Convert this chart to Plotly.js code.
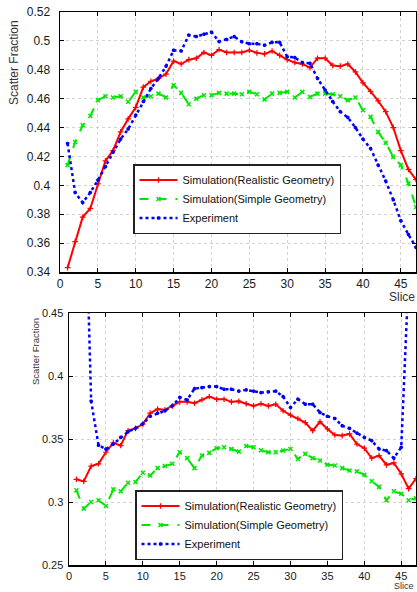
<!DOCTYPE html>
<html><head><meta charset="utf-8">
<script src="https://cdn.plot.ly/plotly-3.0.1.min.js"></script>
<style>html,body{margin:0;padding:0;background:#fff;} #chart{width:417px;height:592px;}</style>
</head><body><div id="chart"></div>
<script>
const slices = [1,2,3,4,5,6,7,8,9,10,11,12,13,14,15,16,17,18,19,20,21,22,23,24,25,26,27,28,29,30,31,32,33,34,35,36,37,38,39,40,41,42,43,44,45,46,47];
const expSlices = [2,3,4,5,6,7,8,9,10,11,12,13,14,15,16,17,18,19,20,21,22,23,24,25,26,27,28,29,30,31,32,33,34,35,36,37,38,39,40,41,42,43,44,45,46];

const topRealistic = [0.343,0.361,0.378,0.384,0.401,0.417,0.424,0.437,0.446,0.454,
  0.468,0.472,0.474,0.477,0.486,0.484,0.487,0.488,0.492,0.490,
  0.494,0.492,0.492,0.492,0.4935,0.4917,0.491,0.493,0.490,0.487,
  0.485,0.484,0.4815,0.488,0.488,0.483,0.4825,0.484,0.4785,0.471,
  0.465,0.4585,0.451,0.440,0.424,0.411,0.404];
const topSimple = [0.414,0.430,0.4416,0.448,0.459,0.4617,0.4608,0.4617,0.4578,0.4647,
  0.4608,0.4617,0.4635,0.4608,0.4693,0.464,0.4562,0.460,0.4624,0.4624,
  0.464,0.4635,0.4635,0.463,0.4647,0.463,0.4594,0.4635,0.464,0.4647,
  0.4608,0.4647,0.4612,0.4635,0.4635,0.463,0.4617,0.459,0.4608,0.452,
  0.4474,0.437,0.4294,0.4197,0.414,0.4013,0.385];
const topExperiment = [0.429,0.395,0.388,0.395,0.4036,0.413,0.423,0.432,0.439,0.4486,
  0.458,0.467,0.474,0.4825,0.4935,0.493,0.504,0.503,0.5046,0.506,
  0.4995,0.501,0.503,0.4994,0.498,0.498,0.497,0.499,0.499,0.489,
  0.4885,0.485,0.4845,0.474,0.466,0.458,0.451,0.447,0.440,0.432,
  0.4255,0.414,0.403,0.390,0.3755,0.366,0.357];

const botRealistic = [0.318,0.3164,0.3285,0.3303,0.3395,0.3469,0.3448,0.3566,0.3584,0.3619,
  0.3705,0.3737,0.3732,0.3763,0.3795,0.3795,0.3784,0.3811,0.3837,0.3816,
  0.3816,0.3795,0.380,0.378,0.3763,0.378,0.3763,0.3776,0.3724,0.369,
  0.3663,0.363,0.3566,0.3637,0.358,0.3532,0.3527,0.354,0.346,0.3427,
  0.3348,0.3369,0.3295,0.331,0.3224,0.3106,0.3185];
const botSimple = [0.3093,0.2948,0.300,0.3014,0.2969,0.310,0.3085,0.3153,0.3158,0.3232,
  0.3211,0.3269,0.3285,0.3303,0.3395,0.3348,0.3269,0.3369,0.339,0.3427,
  0.3434,0.3421,0.340,0.3445,0.3434,0.341,0.3395,0.3395,0.3408,0.3421,
  0.3342,0.3382,0.3348,0.333,0.3295,0.329,0.3269,0.325,0.3243,0.3216,
  0.3164,0.312,0.3014,0.3085,0.3066,0.3014,0.303];
const botExperiment = [0.59,0.38,0.345,0.342,0.346,0.3513,0.3558,0.3584,0.362,
  0.368,0.3705,0.3724,0.3763,0.383,0.381,0.390,0.3908,0.3916,0.3916,
  0.3895,0.3895,0.388,0.389,0.388,0.3868,0.3874,0.388,0.3837,0.375,
  0.3816,0.3776,0.3776,0.371,0.368,0.3663,0.3605,0.3584,0.3547,0.3513,
  0.3487,0.3421,0.3408,0.3348,0.3434,0.48];

const xTicks = [0,5,10,15,20,25,30,35,40,45];
const topYTicks = [0.34,0.36,0.38,0.40,0.42,0.44,0.46,0.48,0.50,0.52];
const topYText = ['0.34','0.36','0.38','0.4','0.42','0.44','0.46','0.48','0.5','0.52'];
const botYTicks = [0.25,0.30,0.35,0.40,0.45];
const botYText = ['0.25','0.3','0.35','0.4','0.45'];
const names = ['Simulation(Realistic Geometry)','Simulation(Simple Geometry)','Experiment'];

const FONT = 'Arial, "Liberation Sans", sans-serif';
const styles = [
  {line:{color:'#ff0000',width:2,dash:'solid'}, marker:{symbol:'cross-thin',size:4,color:'#ff0000',line:{color:'#ff0000',width:1.2}}},
  {line:{color:'#00e600',width:2,dash:'dash'}, marker:{symbol:'x-thin',size:4,color:'#00e600',line:{color:'#00e600',width:1.5}}},
  {line:{color:'#0000ff',width:2.5,dash:'dot'}, marker:{symbol:'asterisk',size:3,color:'#0000ff',line:{color:'#0000ff',width:1.2}}}
];

function tr(x, y, i, xa, ya, leg) {
  return Object.assign({type:'scatter', mode:'lines+markers', x:x, y:y, name:names[i],
    xaxis:xa, yaxis:ya, legend:leg, cliponaxis:true}, JSON.parse(JSON.stringify(styles[i])));
}

const data = [
  tr(slices, topRealistic, 0, 'x', 'y', 'legend'),
  tr(slices, topSimple, 1, 'x', 'y', 'legend'),
  tr(slices, topExperiment, 2, 'x', 'y', 'legend'),
  tr(slices, botRealistic, 0, 'x2', 'y2', 'legend2'),
  tr(slices, botSimple, 1, 'x2', 'y2', 'legend2'),
  tr(expSlices, botExperiment, 2, 'x2', 'y2', 'legend2')
];

function xax(domain, anchor, fs) {
  return {domain:domain, anchor:anchor, range:[0,47], tickvals:xTicks, ticks:'inside', ticklen:4,
    tickcolor:'#000', mirror:'ticks', showline:true, linecolor:'#000', linewidth:1.5,
    showgrid:true, gridcolor:'#d2d2d2', griddash:'dot', gridwidth:1, zeroline:false,
    tickfont:{family:FONT, size:fs, color:'#1a1a1a'}};
}
function yax(domain, anchor, range, tv, tt, fs, standoff) {
  return {domain:domain, anchor:anchor, range:range, tickvals:tv, ticktext:tt, ticks:'inside', ticklen:4,
    tickcolor:'#000', mirror:'ticks', showline:true, linecolor:'#000', linewidth:1.5,
    showgrid:true, gridcolor:'#d2d2d2', griddash:'dot', gridwidth:1, zeroline:false,
    ticklabelstandoff:standoff, tickfont:{family:FONT, size:fs, color:'#1a1a1a'}};
}

const legendBase = {xanchor:'left', yanchor:'top', bgcolor:'#fff', bordercolor:'#222', borderwidth:1.5,
  font:{family:FONT, size:11, color:'#111'}, tracegroupgap:0, itemwidth:38};

const layout = {
  width:417, height:592, margin:{l:0,r:0,t:0,b:0}, paper_bgcolor:'#fff', plot_bgcolor:'#fff',
  font:{family:FONT},
  xaxis: xax([60/417, 416/417], 'y', 12),
  yaxis: yax([320/592, 580/592], 'x', [0.34,0.52], topYTicks, topYText, 12, 6),
  xaxis2: xax([69/417, 416/417], 'y2', 11),
  yaxis2: yax([27/592, 279/592], 'x2', [0.25,0.45], botYTicks, botYText, 11, 2),
  legend: Object.assign({x:133/417, y:1-164/592}, legendBase),
  legend2: Object.assign({x:135/417, y:1-490/592}, legendBase),
  annotations: [
    {text:'Scatter Fraction', xref:'paper', yref:'paper', x:14/417, y:1-63/592, xanchor:'center', yanchor:'middle',
      textangle:-90, showarrow:false, font:{family:FONT, size:12, color:'#333'}},
    {text:'Scatter Fraction', xref:'paper', yref:'paper', x:35/417, y:1-352/592, xanchor:'center', yanchor:'middle',
      textangle:-90, showarrow:false, font:{family:FONT, size:9.5, color:'#333'}},
    {text:'Slice', xref:'paper', yref:'paper', x:402/417, y:1-297/592, xanchor:'center', yanchor:'middle',
      showarrow:false, font:{family:FONT, size:12, color:'#333'}},
    {text:'Slice', xref:'paper', yref:'paper', x:404/417, y:0, xanchor:'center', yanchor:'bottom',
      showarrow:false, borderpad:0, font:{family:FONT, size:9, color:'#333'}}
  ]
};

Plotly.newPlot('chart', data, layout, {staticPlot:true, displayModeBar:false});
</script>
</body></html>
